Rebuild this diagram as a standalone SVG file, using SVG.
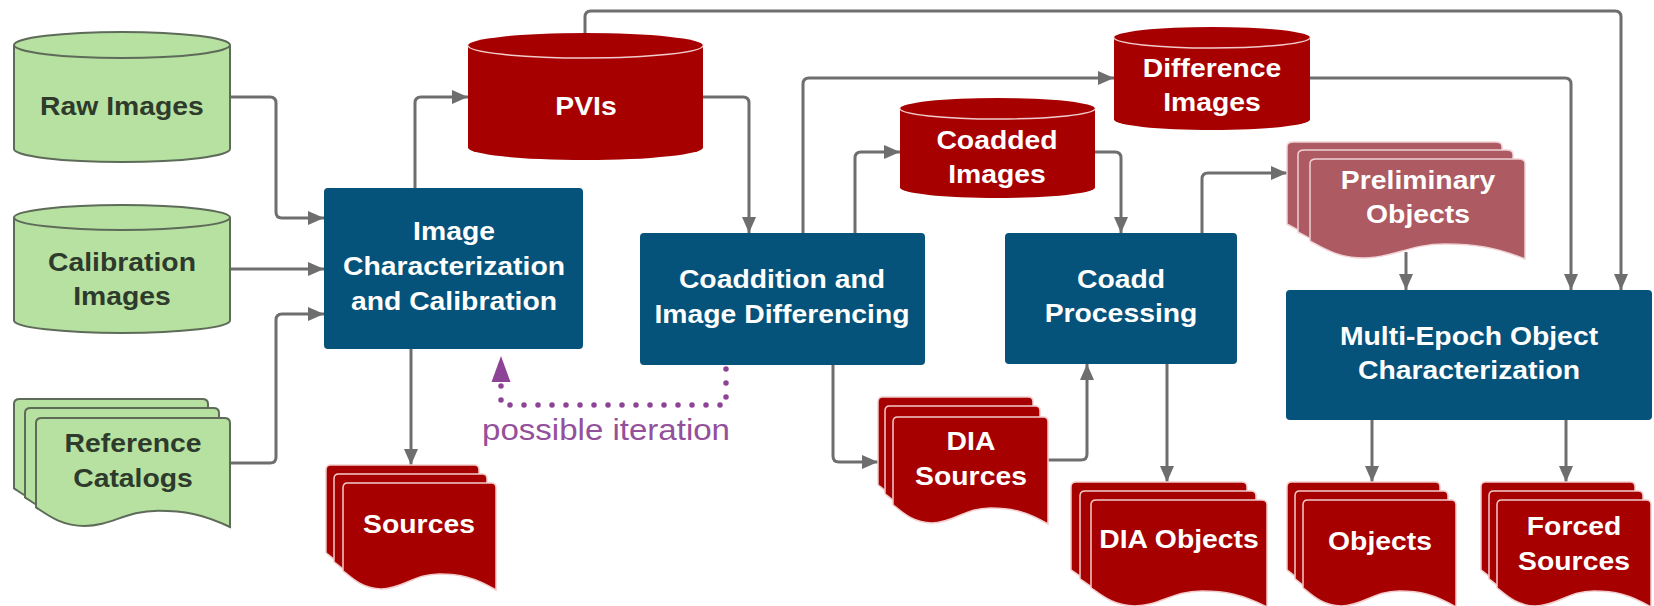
<svg xmlns="http://www.w3.org/2000/svg" xmlns:xlink="http://www.w3.org/1999/xlink" width="1654" height="606" viewBox="0 0 1654 606">
  <style>
    .t { font-family: "Liberation Sans", Arial, sans-serif; font-weight: 700; font-size: 26px; text-anchor: middle; }
    .w { fill: #ffffff; }
    .dk { fill: #2e3a2b; }
    .iter { font-family: "Liberation Sans", Arial, sans-serif; font-weight: 400; font-size: 29px; text-anchor: middle; fill: #93509b; }
    .proc { fill: #05527a; }
    .gfill { fill: #b7e1a1; stroke: #5d6b58; stroke-width: 2; }
    .gline { fill: none; stroke: #5d6b58; stroke-width: 2; }
    .rfill { fill: #a60000; }
    .rline { fill: none; stroke: #f2cccc; stroke-width: 1.5; }
    .rdoc { fill: #a60000; stroke: #f2cccc; stroke-width: 1.5; }
    .pdoc { fill: #ad5a62; stroke: #f0d2d5; stroke-width: 1.5; }
    .gdoc { fill: #b7e1a1; stroke: #5d6b58; stroke-width: 2; }
    .conn path { fill: none; stroke: #6e6e6e; stroke-width: 3; marker-end: url(#ah); }
    .conn path.dots { stroke: #8e4496; stroke-width: 5.5; stroke-dasharray: 0 14; stroke-linecap: round; marker-end: url(#ahp); }
  </style>
  <defs>
    <marker id="ah" markerWidth="16" markerHeight="14" refX="16" refY="7" orient="auto" markerUnits="userSpaceOnUse">
      <path d="M0,0 L16,7 L0,14 z" fill="#6e6e6e"/>
    </marker>
    <marker id="ahp" markerWidth="26" markerHeight="20" refX="0" refY="10" orient="auto" markerUnits="userSpaceOnUse">
      <path d="M0,0.5 L26,10 L0,19.5 z" fill="#8e4496"/>
    </marker>
    <!-- unit document sheet: square top, wavy bottom -->
    <path id="doc" vector-effect="non-scaling-stroke" d="M0,0.82 V0.045 Q0,0 0.03,0 H0.97 Q1,0 1,0.045 V1 C0.86,0.88 0.76,0.85 0.63,0.85 C0.46,0.85 0.39,0.99 0.25,0.99 C0.13,0.99 0.06,0.89 0,0.82 Z"/>
  </defs>

  <g id="connectors" class="conn">
    <path d="M230,97 H270 Q276,97 276,103 V212 Q276,218 282,218 H324"/>
    <path d="M230,269 H324"/>
    <path d="M230,463 H270 Q276,463 276,457 V320 Q276,314 282,314 H324"/>
    <path d="M415,188 V103 Q415,97 421,97 H468"/>
    <path d="M411,349 V465"/>
    <path d="M703,97 H743 Q749,97 749,103 V233"/>
    <path d="M803,233 V84 Q803,78 809,78 H1114"/>
    <path d="M855,233 V158 Q855,152 861,152 H900"/>
    <path d="M585,33 V17 Q585,11 591,11 H1615 Q1621,11 1621,17 V290"/>
    <path d="M1310,78 H1565 Q1571,78 1571,84 V290"/>
    <path d="M1095,152 H1115 Q1121,152 1121,158 V233"/>
    <path d="M1202,233 V179 Q1202,173 1208,173 H1287"/>
    <path d="M1406,252 V290"/>
    <path d="M833,365 V456 Q833,462 839,462 H878"/>
    <path d="M1048,460 H1081 Q1087,460 1087,454 V364"/>
    <path d="M1167,364 V482"/>
    <path d="M1372,420 V482"/>
    <path d="M1566,420 V482"/>
    <path class="dots" d="M726,369 V405 H501 V382"/>
  </g>

  <g id="raw-images">
    <path class="gfill" d="M14,45 V149 A108,13 0 0 0 230,149 V45 A108,13 0 0 0 14,45 Z"/>
    <path class="gline" d="M14,45 A108,13 0 0 0 230,45"/>
    <text class="t dk" transform="translate(122 0) scale(1.09 1)"><tspan x="0" y="115">Raw Images</tspan></text>
  </g>

  <g id="calibration-images">
    <path class="gfill" d="M14,217.5 V320.5 A108,12.5 0 0 0 230,320.5 V217.5 A108,12.5 0 0 0 14,217.5 Z"/>
    <path class="gline" d="M14,217.5 A108,12.5 0 0 0 230,217.5"/>
    <text class="t dk" transform="translate(122 0) scale(1.09 1)"><tspan x="0" y="271">Calibration</tspan><tspan x="0" y="305">Images</tspan></text>
  </g>

  <g id="reference-catalogs">
    <use xlink:href="#doc" class="gdoc" transform="translate(14 399) scale(194 109)"/>
    <use xlink:href="#doc" class="gdoc" transform="translate(25 408) scale(194 109)"/>
    <use xlink:href="#doc" class="gdoc" transform="translate(36 418) scale(194 109)"/>
    <text class="t dk" transform="translate(133 0) scale(1.09 1)"><tspan x="0" y="452">Reference</tspan><tspan x="0" y="487">Catalogs</tspan></text>
  </g>

  <g id="image-characterization">
    <rect class="proc" x="324" y="188" width="259" height="161" rx="4"/>
    <text class="t w" transform="translate(454 0) scale(1.09 1)"><tspan x="0" y="240">Image</tspan><tspan x="0" y="275">Characterization</tspan><tspan x="0" y="310">and Calibration</tspan></text>
  </g>

  <g id="pvis">
    <path class="rfill" d="M468,45.5 V147.5 A117.5,12.5 0 0 0 703,147.5 V45.5 A117.5,12.5 0 0 0 468,45.5 Z"/>
    <path class="rline" d="M468,45.5 A117.5,12.5 0 0 0 703,45.5"/>
    <text class="t w" transform="translate(586 0) scale(1.09 1)"><tspan x="0" y="115">PVIs</tspan></text>
  </g>

  <g id="sources">
    <use xlink:href="#doc" class="rdoc" transform="translate(326 465) scale(153 107)"/>
    <use xlink:href="#doc" class="rdoc" transform="translate(334 474) scale(153 107)"/>
    <use xlink:href="#doc" class="rdoc" transform="translate(343 483) scale(153 107)"/>
    <text class="t w" transform="translate(419 0) scale(1.09 1)"><tspan x="0" y="533">Sources</tspan></text>
  </g>

  <g id="coaddition">
    <rect class="proc" x="640" y="233" width="285" height="132" rx="4"/>
    <text class="t w" transform="translate(782 0) scale(1.09 1)"><tspan x="0" y="288">Coaddition and</tspan><tspan x="0" y="323">Image Differencing</tspan></text>
  </g>

  <g id="coadded-images">
    <path class="rfill" d="M900,108.5 V187.5 A97.5,10.5 0 0 0 1095,187.5 V108.5 A97.5,10.5 0 0 0 900,108.5 Z"/>
    <path class="rline" d="M900,108.5 A97.5,10.5 0 0 0 1095,108.5"/>
    <text class="t w" transform="translate(997 0) scale(1.09 1)"><tspan x="0" y="149">Coadded</tspan><tspan x="0" y="183">Images</tspan></text>
  </g>

  <g id="difference-images">
    <path class="rfill" d="M1114,37.5 V119.5 A98,10.5 0 0 0 1310,119.5 V37.5 A98,10.5 0 0 0 1114,37.5 Z"/>
    <path class="rline" d="M1114,37.5 A98,10.5 0 0 0 1310,37.5"/>
    <text class="t w" transform="translate(1212 0) scale(1.09 1)"><tspan x="0" y="77">Difference</tspan><tspan x="0" y="111">Images</tspan></text>
  </g>

  <g id="dia-sources">
    <use xlink:href="#doc" class="rdoc" transform="translate(878 397) scale(155 107)"/>
    <use xlink:href="#doc" class="rdoc" transform="translate(885 406) scale(155 107)"/>
    <use xlink:href="#doc" class="rdoc" transform="translate(893 417) scale(155 107)"/>
    <text class="t w" transform="translate(971 0) scale(1.09 1)"><tspan x="0" y="450">DIA</tspan><tspan x="0" y="485">Sources</tspan></text>
  </g>

  <g id="coadd-processing">
    <rect class="proc" x="1005" y="233" width="232" height="131" rx="4"/>
    <text class="t w" transform="translate(1121 0) scale(1.09 1)"><tspan x="0" y="288">Coadd</tspan><tspan x="0" y="322">Processing</tspan></text>
  </g>

  <g id="preliminary-objects">
    <use xlink:href="#doc" class="pdoc" transform="translate(1287 142) scale(215 100)"/>
    <use xlink:href="#doc" class="pdoc" transform="translate(1298 150) scale(215 100)"/>
    <use xlink:href="#doc" class="pdoc" transform="translate(1310 159) scale(215 100)"/>
    <text class="t w" transform="translate(1418 0) scale(1.09 1)"><tspan x="0" y="189">Preliminary</tspan><tspan x="0" y="223">Objects</tspan></text>
  </g>

  <g id="multi-epoch">
    <rect class="proc" x="1286" y="290" width="366" height="130" rx="4"/>
    <text class="t w" transform="translate(1469 0) scale(1.09 1)"><tspan x="0" y="345">Multi-Epoch Object</tspan><tspan x="0" y="379">Characterization</tspan></text>
  </g>

  <g id="dia-objects">
    <use xlink:href="#doc" class="rdoc" transform="translate(1071 482) scale(176 107)"/>
    <use xlink:href="#doc" class="rdoc" transform="translate(1080 491) scale(176 107)"/>
    <use xlink:href="#doc" class="rdoc" transform="translate(1091 500) scale(176 107)"/>
    <text class="t w" transform="translate(1179 0) scale(1.09 1)"><tspan x="0" y="548">DIA Objects</tspan></text>
  </g>

  <g id="objects">
    <use xlink:href="#doc" class="rdoc" transform="translate(1287 482) scale(153 107)"/>
    <use xlink:href="#doc" class="rdoc" transform="translate(1295 491) scale(153 107)"/>
    <use xlink:href="#doc" class="rdoc" transform="translate(1303 500) scale(153 107)"/>
    <text class="t w" transform="translate(1380 0) scale(1.09 1)"><tspan x="0" y="550">Objects</tspan></text>
  </g>

  <g id="forced-sources">
    <use xlink:href="#doc" class="rdoc" transform="translate(1481 482) scale(154 107)"/>
    <use xlink:href="#doc" class="rdoc" transform="translate(1489 491) scale(154 107)"/>
    <use xlink:href="#doc" class="rdoc" transform="translate(1497 500) scale(154 107)"/>
    <text class="t w" transform="translate(1574 0) scale(1.09 1)"><tspan x="0" y="535">Forced</tspan><tspan x="0" y="570">Sources</tspan></text>
  </g>

  <g id="iteration-note">
    <text class="iter" transform="translate(606 0) scale(1.14 1)"><tspan x="0" y="440">possible iteration</tspan></text>
  </g>
</svg>
